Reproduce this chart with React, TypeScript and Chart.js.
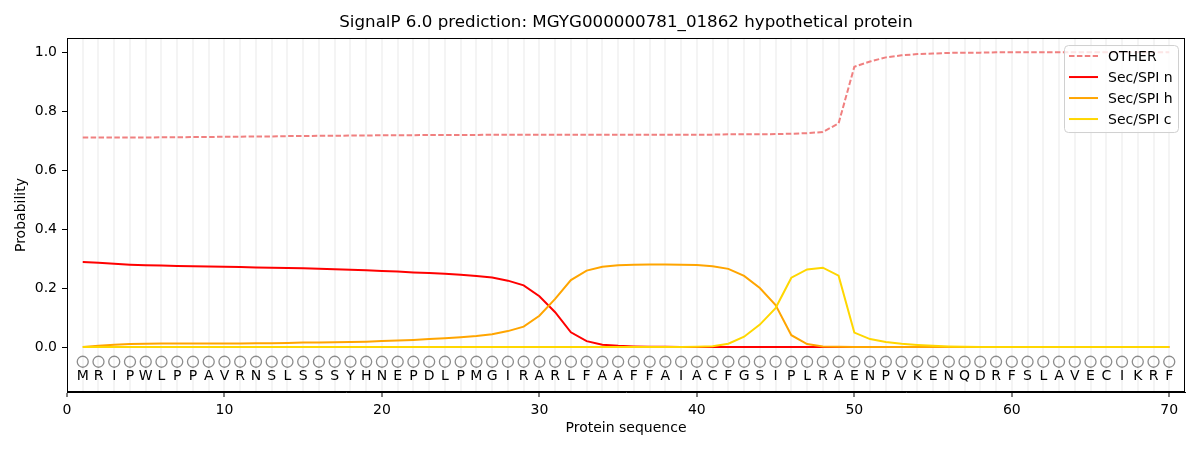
import React, { useEffect, useRef } from "react";
import { Chart, registerables, Plugin } from "chart.js";

Chart.register(...registerables);

// sequence shown under the plot, one residue per position
const residues = "MRIPWLPPAVRNSLSSSYHNEPDLPMGIRARLFAAFFAIACFGSIPLRAENPVKENQDRFSLAVECIKRF".split("");
const positions = residues.map((_, i) => i + 1);

const otherProb = [
  0.710, 0.710, 0.710, 0.710, 0.710, 0.711, 0.711, 0.712, 0.712, 0.713,
  0.713, 0.714, 0.714, 0.715, 0.715, 0.716, 0.716, 0.717, 0.717, 0.718,
  0.718, 0.718, 0.719, 0.719, 0.719, 0.719, 0.720, 0.720, 0.720, 0.720,
  0.720, 0.720, 0.720, 0.720, 0.720, 0.720, 0.720, 0.720, 0.720, 0.720,
  0.720, 0.721, 0.721, 0.721, 0.722, 0.723, 0.725, 0.729, 0.758, 0.950,
  0.968, 0.982, 0.989, 0.993, 0.995, 0.997, 0.998, 0.998, 0.999, 0.999,
  0.999, 0.999, 0.999, 0.999, 0.999, 0.999, 0.999, 0.999, 0.999, 0.999,
];
const secN = [
  0.288, 0.286, 0.282, 0.279, 0.277, 0.276, 0.275, 0.274, 0.273, 0.272,
  0.271, 0.270, 0.269, 0.268, 0.267, 0.265, 0.264, 0.262, 0.260, 0.258,
  0.256, 0.253, 0.251, 0.248, 0.245, 0.241, 0.236, 0.225, 0.209, 0.172,
  0.118, 0.050, 0.020, 0.008, 0.004, 0.002, 0.001, 0.001, 0.000, 0.000,
  0.000, 0.000, 0.000, 0.000, 0.000, 0.000, 0.000, 0.000, 0.000, 0.000,
  0.000, 0.000, 0.000, 0.000, 0.000, 0.000, 0.000, 0.000, 0.000, 0.000,
  0.000, 0.000, 0.000, 0.000, 0.000, 0.000, 0.000, 0.000, 0.000, 0.000,
];
const secH = [
  0.000, 0.004, 0.008, 0.010, 0.011, 0.012, 0.012, 0.012, 0.012, 0.012,
  0.012, 0.013, 0.013, 0.014, 0.015, 0.015, 0.016, 0.017, 0.018, 0.020,
  0.022, 0.024, 0.027, 0.030, 0.033, 0.037, 0.043, 0.054, 0.069, 0.106,
  0.163, 0.227, 0.259, 0.272, 0.277, 0.279, 0.280, 0.280, 0.279, 0.278,
  0.274, 0.265, 0.241, 0.200, 0.142, 0.040, 0.010, 0.002, 0.001, 0.000,
  0.000, 0.000, 0.000, 0.000, 0.000, 0.000, 0.000, 0.000, 0.000, 0.000,
  0.000, 0.000, 0.000, 0.000, 0.000, 0.000, 0.000, 0.000, 0.000, 0.000,
];
const secC = [
  0.000, 0.000, 0.000, 0.000, 0.000, 0.000, 0.000, 0.000, 0.000, 0.000,
  0.000, 0.000, 0.000, 0.000, 0.000, 0.000, 0.000, 0.000, 0.000, 0.000,
  0.000, 0.000, 0.000, 0.000, 0.000, 0.000, 0.000, 0.000, 0.000, 0.000,
  0.000, 0.000, 0.000, 0.000, 0.000, 0.000, 0.000, 0.000, 0.000, 0.001,
  0.003, 0.011, 0.035, 0.076, 0.132, 0.235, 0.263, 0.269, 0.242, 0.049,
  0.027, 0.017, 0.011, 0.007, 0.004, 0.002, 0.001, 0.000, 0.000, 0.000,
  0.000, 0.000, 0.000, 0.000, 0.000, 0.000, 0.000, 0.000, 0.000, 0.000,
];

const xTickLabels = [0, 10, 20, 30, 40, 50, 60, 70];
const yTickValues = [0, 0.2, 0.4, 0.6, 0.8, 1.0];
const xTicks = [0, ...positions];
const markerLevel = -0.05;
const letterLevel = -0.1;

const FONT = "'DejaVu Sans', sans-serif";

const series = [
  { label: "OTHER", data: otherProb, color: "#F08080", dash: [5.5, 2.4] },
  { label: "Sec/SPI n", data: secN, color: "#FF0000", dash: [] as number[] },
  { label: "Sec/SPI h", data: secH, color: "#FFA500", dash: [] as number[] },
  { label: "Sec/SPI c", data: secC, color: "#FFD700", dash: [] as number[] },
];

// frame, residue letters and matplotlib-like legend
const overlay: Plugin<"line"> = {
  id: "overlay",
  afterDatasetsDraw(chart) {
    const { ctx, chartArea, scales } = chart;
    ctx.save();
    ctx.fillStyle = "#000";
    ctx.font = `14px ${FONT}`;
    ctx.textAlign = "center";
    ctx.textBaseline = "middle";
    const ly = scales.y.getPixelForValue(letterLevel);
    residues.forEach((r, i) => {
      ctx.fillText(r, scales.x.getPixelForValue(positions[i]), ly);
    });
    ctx.strokeStyle = "#000";
    ctx.lineWidth = 1;
    ctx.strokeRect(
      Math.round(chartArea.left) + 0.5,
      Math.round(chartArea.top) + 0.5,
      Math.round(chartArea.right - chartArea.left) - 1,
      Math.round(chartArea.bottom - chartArea.top) - 1
    );

    // legend box
    const w = 114;
    const h = 87;
    const bx = chartArea.right - 7 - w;
    const by = chartArea.top + 7;
    ctx.beginPath();
    ctx.roundRect(bx + 0.5, by + 0.5, w, h, 4);
    ctx.fillStyle = "rgba(255,255,255,0.8)";
    ctx.fill();
    ctx.strokeStyle = "#d0d0d0";
    ctx.stroke();
    ctx.textAlign = "left";
    ctx.font = `14px ${FONT}`;
    series.forEach((s, i) => {
      const y = by + 11 + i * 21;
      ctx.beginPath();
      ctx.setLineDash(s.dash);
      ctx.strokeStyle = s.color;
      ctx.lineWidth = 2;
      ctx.moveTo(bx + 5, y);
      ctx.lineTo(bx + 34, y);
      ctx.stroke();
      ctx.setLineDash([]);
      ctx.fillStyle = "#000";
      ctx.fillText(s.label, bx + 44, y + 1);
    });
    ctx.restore();
  },
};

export default function App() {
  const canvasRef = useRef<HTMLCanvasElement>(null);

  useEffect(() => {
    document.body.style.margin = "0";
    if (!canvasRef.current) return;
    const ctx = canvasRef.current.getContext("2d")!;
    Chart.defaults.font.family = FONT;

    const lineSets = series.map((s, i) => ({
      label: s.label,
      data: positions.map((p, j) => ({ x: p, y: s.data[j] })),
      borderColor: s.color,
      borderDash: s.dash,
      borderWidth: 2,
      pointRadius: 0,
      tension: 0,
      fill: false,
      order: 4 - i,
    }));

    const chart = new Chart(ctx, {
      type: "line",
      data: {
        datasets: [
          ...lineSets,
          {
            label: "markers",
            data: positions.map((p) => ({ x: p, y: markerLevel })),
            showLine: false,
            pointRadius: 5.5,
            pointBorderWidth: 1.3,
            pointBorderColor: "#8c8c8c",
            pointBackgroundColor: "rgba(0,0,0,0)",
            order: 5,
          },
        ],
      },
      options: {
        animation: false,
        responsive: false,
        devicePixelRatio: 1,
        layout: { padding: { left: 0, right: 15, top: 0, bottom: 0 } },
        plugins: {
          legend: { display: false },
          tooltip: { enabled: false },
          title: {
            display: true,
            fullSize: false,
            text: "SignalP 6.0 prediction: MGYG000000781_01862 hypothetical protein",
            color: "#000",
            font: { size: 16.7, weight: "normal" },
            padding: { top: 13, bottom: 5 },
          },
        },
        scales: {
          x: {
            type: "linear",
            min: 0,
            max: 71,
            afterBuildTicks: (scale) => {
              scale.ticks = xTicks.map((v) => ({ value: v }));
            },
            afterFit: (scale) => {
              scale.height = 58;
            },
            ticks: {
              autoSkip: false,
              maxRotation: 0,
              color: "#000",
              font: { size: 14 },
              padding: 5,
              callback: (v) => (xTickLabels.includes(Number(v)) ? String(v) : ""),
            },
            grid: {
              color: (c) => (c.tick && c.tick.value >= 1 ? "#f4f4f4" : "rgba(0,0,0,0)"),
              lineWidth: 2,
              drawTicks: true,
              tickLength: 5,
              tickWidth: 1,
              tickColor: (c) =>
                c.tick && xTickLabels.includes(c.tick.value) ? "#000" : "rgba(0,0,0,0)",
            },
            border: { display: true, color: "#000", width: 1 },
            title: {
              display: true,
              text: "Protein sequence",
              color: "#000",
              font: { size: 14 },
              padding: { top: 0, bottom: 13 },
            },
          },
          y: {
            min: -0.1525,
            max: 1.0475,
            afterBuildTicks: (scale) => {
              scale.ticks = yTickValues.map((v) => ({ value: v }));
            },
            afterFit: (scale) => {
              scale.width = 67;
            },
            ticks: {
              color: "#000",
              font: { size: 14 },
              padding: 5,
              callback: (v) => Number(v).toFixed(1),
            },
            grid: {
              drawOnChartArea: false,
              drawTicks: true,
              tickLength: 5,
              tickWidth: 1,
              tickColor: "#000",
            },
            border: { display: true, color: "#000", width: 1 },
            title: {
              display: true,
              text: "Probability",
              color: "#000",
              font: { size: 14 },
              padding: { top: 13, bottom: 0 },
            },
          },
        },
      },
      plugins: [overlay],
    });

    return () => chart.destroy();
  }, []);

  return (
    <div style={{ width: 1200, height: 450 }}>
      <canvas ref={canvasRef} width={1200} height={450} />
    </div>
  );
}
